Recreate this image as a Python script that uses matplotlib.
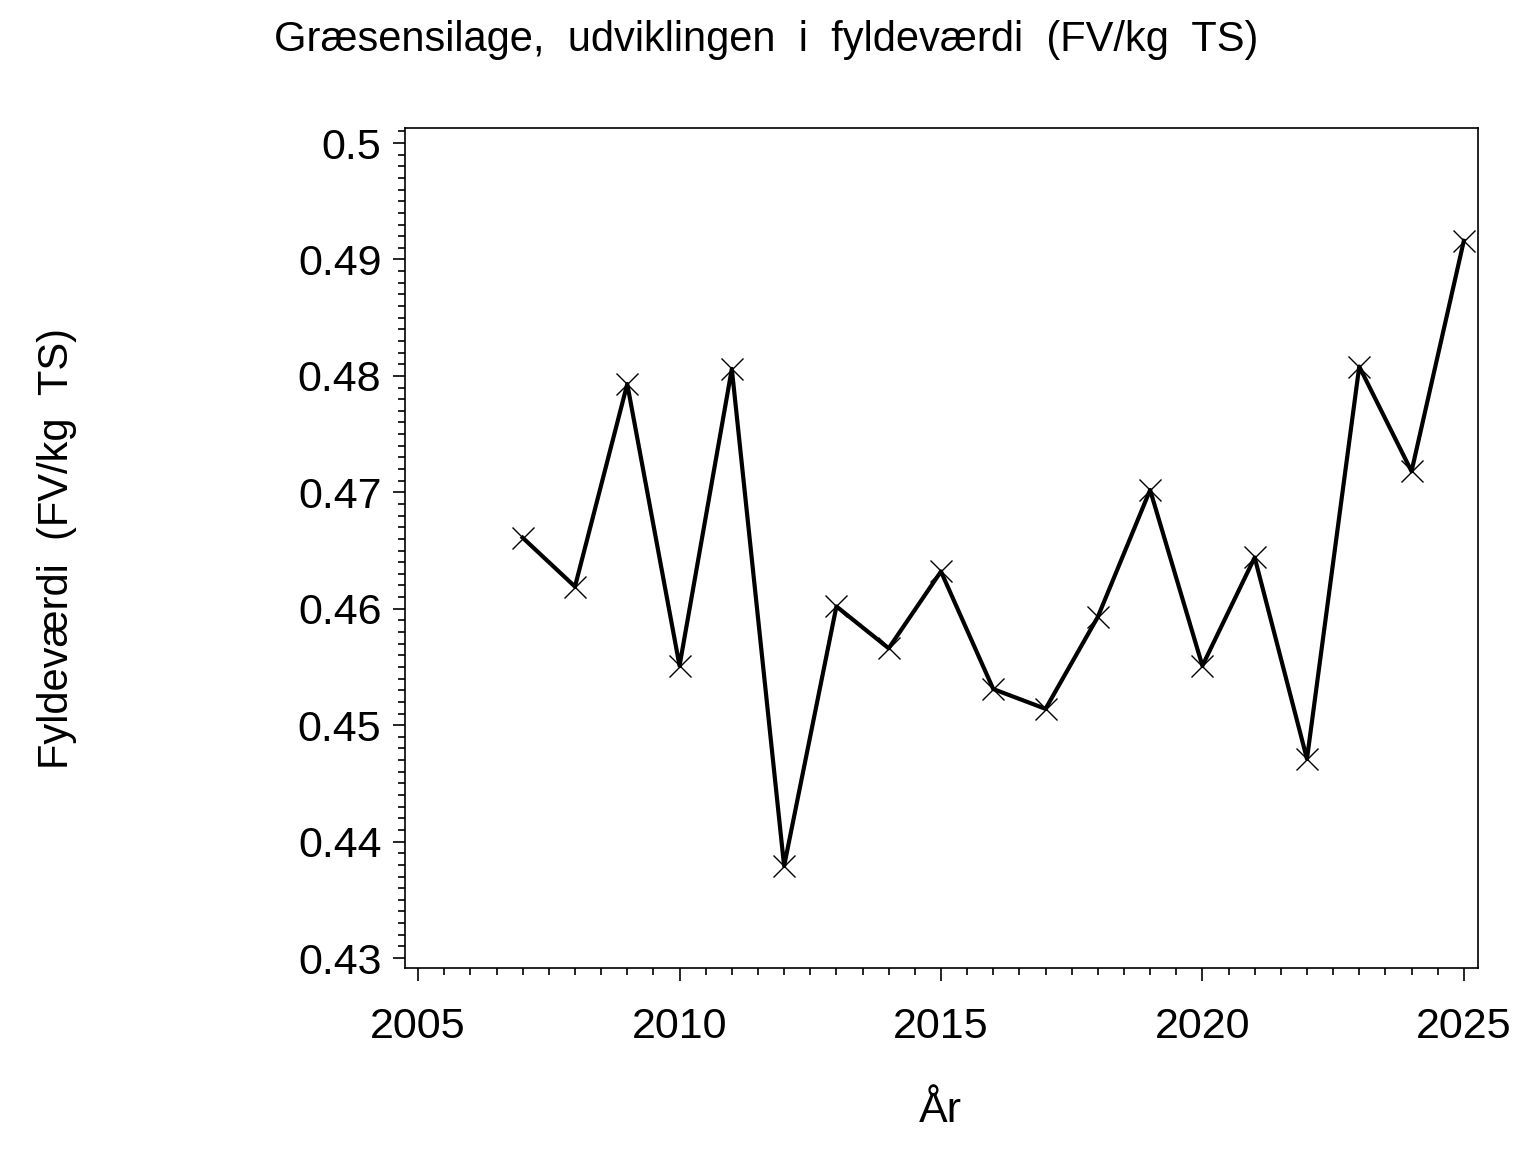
import matplotlib
matplotlib.use('Agg')
import matplotlib.pyplot as plt
from matplotlib.ticker import MultipleLocator

years = [2007, 2008, 2009, 2010, 2011, 2012, 2013, 2014, 2015, 2016,
         2017, 2018, 2019, 2020, 2021, 2022, 2023, 2024, 2025]
fv = [0.4661, 0.4619, 0.4793, 0.4551, 0.4806, 0.4379, 0.4602, 0.4566,
      0.4632, 0.4531, 0.4514, 0.4593, 0.4702, 0.4551, 0.4644, 0.4471,
      0.4808, 0.4718, 0.4916]

y_ticks = [0.43, 0.44, 0.45, 0.46, 0.47, 0.48, 0.49, 0.5]
x_ticks = [2005, 2010, 2015, 2020, 2025]

title = "Græsensilage,  udviklingen  i  fyldeværdi  (FV/kg  TS)"
ylabel = "Fyldeværdi  (FV/kg  TS)"
xlabel = "År"

plt.rcParams['font.family'] = ['Liberation Sans', 'DejaVu Sans']

fig = plt.figure(figsize=(15.36, 11.52), dpi=100)
ax = fig.add_axes([0.2637, 0.1597, 0.6985, 0.7292])

ax.plot(years, fv, color='black', linewidth=3.0, marker='x',
        markersize=16, markeredgewidth=1.0, markeredgecolor='black')

ax.set_xlim(2004.75, 2025.27)
ax.set_ylim(0.42914, 0.50129)

ax.xaxis.set_minor_locator(MultipleLocator(0.5))
ax.yaxis.set_minor_locator(MultipleLocator(0.001))
ax.set_xticks(x_ticks)
ax.set_xticklabels([str(v) for v in x_ticks])
ax.set_yticks(y_ticks)
ax.set_yticklabels([f"{v:g}" for v in y_ticks])

ax.tick_params(which='major', direction='out', length=9, width=1.2,
               labelsize=31)
ax.tick_params(axis='y', which='major', pad=8)
ax.tick_params(axis='x', which='major', pad=19)
ax.tick_params(which='minor', direction='out', length=5, width=1.2)
ax.tick_params(top=False, right=False, which='both')
for s in ax.spines.values():
    s.set_linewidth(1.2)

fig.text(0.499, 0.965, title, ha='center', va='center', fontsize=30)
fig.text(0.037, 0.524, ylabel, ha='center', va='center', rotation=90,
         fontsize=30)
fig.text(0.612, 0.036, xlabel, ha='center', va='center', fontsize=31)

fig.savefig('out.png', dpi=100)
